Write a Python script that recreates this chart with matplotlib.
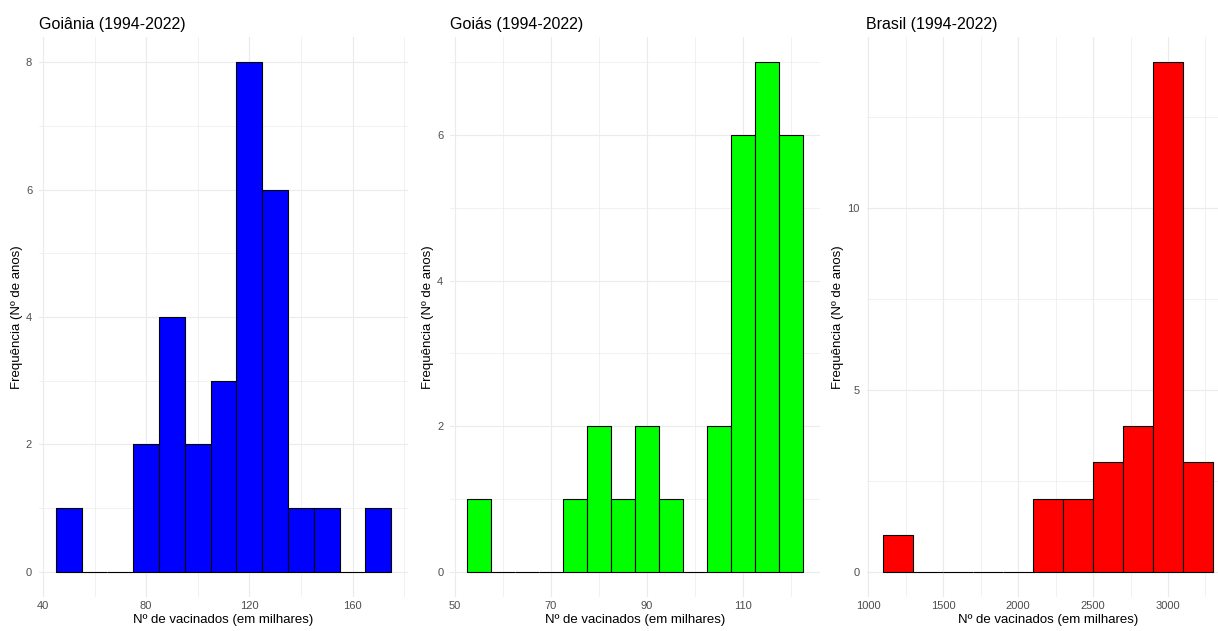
import numpy as np
import matplotlib.pyplot as plt
from matplotlib.ticker import MultipleLocator

plt.rcParams['font.family'] = ['Liberation Sans', 'DejaVu Sans']

# histogram counts (29 years per panel)
goiania_edges = [45, 55, 65, 75, 85, 95, 105, 115, 125, 135, 145, 155, 165, 175]
goiania_counts = [1, 0, 0, 2, 4, 2, 3, 8, 6, 1, 1, 0, 1]

goias_edges = [52.5, 57.5, 62.5, 67.5, 72.5, 77.5, 82.5, 87.5, 92.5, 97.5,
               102.5, 107.5, 112.5, 117.5, 122.5]
goias_counts = [1, 0, 0, 0, 1, 2, 1, 2, 1, 0, 2, 6, 7, 6]

brasil_edges = [1100, 1300, 1500, 1700, 1900, 2100, 2300, 2500, 2700, 2900, 3100, 3300]
brasil_counts = [1, 0, 0, 0, 0, 2, 2, 3, 4, 14, 3]

titles = ['Goiânia (1994-2022)', 'Goiás (1994-2022)', 'Brasil (1994-2022)']
colors = ['#0000FF', '#00FF00', '#FF0000']

W, H = 1218, 631
fig = plt.figure(figsize=(W / 100, H / 100), dpi=100)

# axes boxes in pixels: left, right
boxes = [(39.1, 408.0), (450.2, 819.8), (866.5, 1229.5)]
top, bottom = 37, 597

# (edges, counts, x major step, x offset, x minor step, y major, y minor)
panels = [
    (goiania_edges, goiania_counts, 40, 0, 20, 2, 1),
    (goias_edges, goias_counts, 20, 10, 10, 2, 1),
    (brasil_edges, brasil_counts, 500, 0, 250, 5, 2.5),
]

for i, (edges, counts, xmaj, xoff, xmin, ymaj, ymin) in enumerate(panels):
    l, r = boxes[i]
    ax = fig.add_axes([l / W, (H - bottom) / H, (r - l) / W, (bottom - top) / H])
    edges = np.array(edges, dtype=float)
    counts = np.array(counts)
    widths = np.diff(edges)
    ax.bar(edges[:-1], counts, width=widths, align='edge', color=colors[i],
           edgecolor='black', linewidth=0.8, zorder=3)
    xr = edges[-1] - edges[0]
    ax.set_xlim(edges[0] - 0.05 * xr, edges[-1] + 0.05 * xr)
    ymax = counts.max()
    ax.set_ylim(-0.05 * ymax, 1.05 * ymax)
    ax.xaxis.set_major_locator(MultipleLocator(xmaj, offset=xoff))
    ax.xaxis.set_minor_locator(MultipleLocator(xmin))
    ax.yaxis.set_major_locator(MultipleLocator(ymaj))
    ax.yaxis.set_minor_locator(MultipleLocator(ymin))
    ax.grid(which='major', color='#EBEBEB', linewidth=0.8, zorder=0)
    ax.grid(which='minor', color='#EBEBEB', linewidth=0.5, zorder=0)
    ax.set_axisbelow(True)
    for s in ax.spines.values():
        s.set_visible(False)
    ax.tick_params(which='both', length=0, labelsize=8, labelcolor='#4D4D4D')
    ax.tick_params(axis='y', pad=5)
    ax.tick_params(axis='x', pad=3)
    ax.set_title(titles[i], loc='left', fontsize=11.5, pad=6)
    ax.set_xlabel('Nº de vacinados (em milhares)', fontsize=9.5, labelpad=2)
    ax.set_ylabel('Frequência (Nº de anos)', fontsize=9.5, labelpad=2)

fig.savefig('out.png', dpi=100)
